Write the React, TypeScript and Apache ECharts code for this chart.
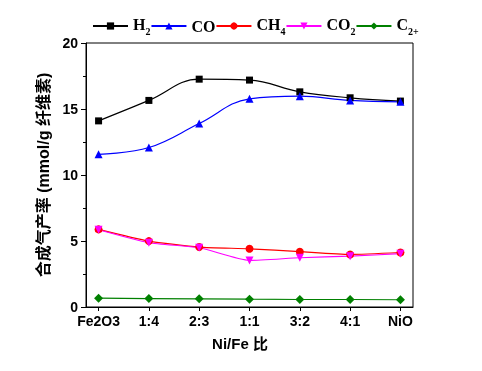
import React, { useEffect, useRef } from "react";
import * as echarts from "echarts";

const categories = ["Fe2O3", "1:4", "2:3", "1:1", "3:2", "4:1", "NiO"];
const h2 = [14.1, 15.65, 17.26, 17.19, 16.3, 15.85, 15.6];
const co = [11.57, 12.08, 13.9, 15.77, 15.97, 15.65, 15.54];
const ch4 = [5.88, 4.99, 4.54, 4.41, 4.19, 3.98, 4.13];
const co2 = [5.85, 4.87, 4.49, 3.53, 3.73, 3.85, 4.04];
const c2 = [0.67, 0.64, 0.62, 0.59, 0.57, 0.57, 0.55];
const yTicks = [0, 5, 10, 15, 20];

const legendRich: Record<string, string> = {
  H2: "{m|H}{s|2}",
  CO: "{m|CO}",
  CH4: "{m|CH}{s|4}",
  CO2: "{m|CO}{s|2}",
  "C2+": "{m|C}{s|2+}",
};

export default function App() {
  const ref = useRef<HTMLDivElement>(null);
  useEffect(() => {
    if (!ref.current) return;
    const chart = echarts.init(ref.current, undefined, { renderer: "svg" });
    const pts = (arr: number[]) => arr.map((v, i) => [i, v]);
    const mk = (name: string, data: number[], color: string, symbol: string, smooth: number, rotate = 0, size = 8) => ({
      name,
      type: "line",
      data: pts(data),
      smooth,
      symbol,
      symbolSize: size,
      symbolRotate: rotate,
      lineStyle: { color, width: 1.2 },
      itemStyle: { color },
    });
    const font = "'Liberation Sans', Arial, sans-serif";
    chart.setOption({
      animation: false,
      grid: { left: 86, right: 69, top: 43, bottom: 64, show: true, borderColor: "#000", borderWidth: 1 },
      legend: {
        left: 92,
        top: 16,
        padding: 0,
        itemWidth: 35,
        itemHeight: 9,
        itemGap: 0,
        formatter: (n: string) => legendRich[n],
        textStyle: {
          rich: {
            m: { fontSize: 16, fontWeight: "bold", fontFamily: "'Liberation Serif', serif", color: "#000", lineHeight: 16, verticalAlign: "top" },
            s: { fontSize: 10, fontWeight: "bold", fontFamily: "'Liberation Serif', serif", color: "#000", lineHeight: 20, verticalAlign: "bottom" },
          },
        },
        data: ["H2", "CO", "CH4", "CO2", "C2+"],
      },
      xAxis: {
        type: "value",
        min: -0.25,
        max: 6.25,
        splitLine: { show: false },
        axisLine: { lineStyle: { color: "#000", width: 1 } },
        axisTick: { show: true, length: 4, inside: false, customValues: [0, 1, 2, 3, 4, 5, 6], lineStyle: { color: "#000" } },
        axisLabel: {
          customValues: [0, 1, 2, 3, 4, 5, 6],
          formatter: (v: number) => categories[Math.round(v)] ?? "",
          color: "#000",
          fontSize: 14,
          fontWeight: "bold",
          fontFamily: font,
          margin: 7,
        },
        name: "Ni/Fe 比",
        nameLocation: "middle",
        nameGap: 29,
        nameTextStyle: { color: "#000", fontSize: 15, fontWeight: "bold", fontFamily: "'Liberation Sans', 'Noto Sans CJK SC', sans-serif", padding: [0, 19, 0, 0] },
      },
      yAxis: {
        type: "value",
        min: 0,
        max: 20,
        interval: 5,
        splitLine: { show: false },
        axisLine: { show: true, onZero: false, lineStyle: { color: "#000", width: 1 } },
        axisTick: { show: true, length: 5, inside: false, lineStyle: { color: "#000" } },
        minorTick: { show: true, splitNumber: 2, length: 3, lineStyle: { color: "#000" } },
        axisLabel: {
          color: "#000",
          fontSize: 14,
          fontWeight: "bold",
          fontFamily: font,
          margin: 8,
          formatter: (v: number) => (yTicks.includes(v) ? String(v) : ""),
        },
        name: "合成气产率 (mmol/g 纤维素)",
        nameLocation: "middle",
        nameGap: 33,
        nameTextStyle: { color: "#000", fontSize: 16, fontWeight: "bold", fontFamily: "'Liberation Sans', 'Noto Sans CJK SC', sans-serif" },
      },
      series: [
        mk("H2", h2, "#000000", "rect", 0.4, 0, 7),
        mk("CO", co, "#0000ff", "triangle", 0.4, 0, 8),
        mk("CH4", ch4, "#ff0000", "circle", 0.2, 0, 8),
        mk("CO2", co2, "#ff00ff", "triangle", 0.2, 180, 8),
        mk("C2+", c2, "#008000", "diamond", 0, 0, 9),
      ],
    });
    return () => chart.dispose();
  }, []);
  return <div ref={ref} style={{ width: 482, height: 371, position: "fixed", left: 0, top: 0 }} />;
}
